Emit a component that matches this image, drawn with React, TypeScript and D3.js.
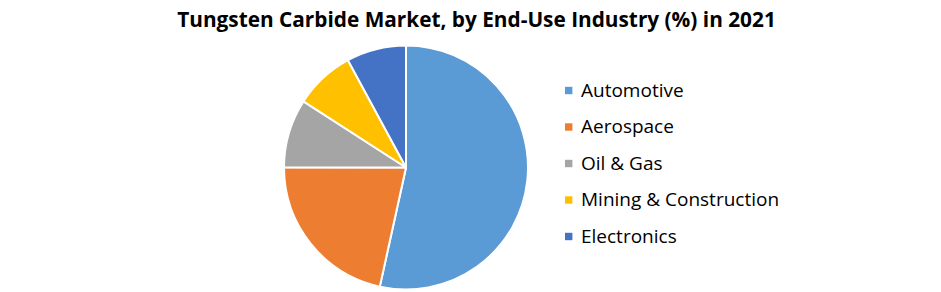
import React from "react";
import * as d3 from "d3";

const categories = ["Automotive", "Aerospace", "Oil & Gas", "Mining & Construction", "Electronics"];
const shares = [53.5, 21.6, 9.1, 8.0, 7.9];
const colors = ["#5B9BD5", "#ED7D31", "#A5A5A5", "#FFC000", "#4472C4"];
const title = "Tungsten Carbide Market, by End-Use Industry (%) in 2021";

const W = 941;
const H = 292;

export default function App() {
  const cx = 406;
  const cy = 167.5;
  const r = 122;
  const pie = d3.pie<number>().sort(null).value((d) => d)(shares);
  const arc = d3.arc<d3.PieArcDatum<number>>().innerRadius(0).outerRadius(r);
  const legendY = d3.scaleLinear().domain([0, 1]).range([90.5, 127]);
  return (
    <svg width={W} height={H} style={{ position: "absolute", left: 0, top: 0, background: "#fff" }}>
      <rect x={0} y={0} width={W} height={H} fill="#fff" />
      <text x={476.5} y={27} textAnchor="middle" fontFamily="'Open Sans', sans-serif" fontWeight="bold" fontSize={20.8} fill="#000">
        {title}
      </text>
      <g transform={`translate(${cx},${cy})`}>
        {pie.map((p, i) => (
          <path key={i} d={arc(p) || ""} fill={colors[i]} stroke="#fff" strokeWidth={2} strokeLinejoin="round" />
        ))}
      </g>
      {categories.map((c, i) => (
        <g key={c} transform={`translate(0,${legendY(i)})`}>
          <rect x={565} y={-3.7} width={7.4} height={7.4} fill={colors[i]} />
          <text x={581} y={6.4} fontFamily="'Open Sans', sans-serif" fontSize={19} fill="#000">
            {c}
          </text>
        </g>
      ))}
    </svg>
  );
}
